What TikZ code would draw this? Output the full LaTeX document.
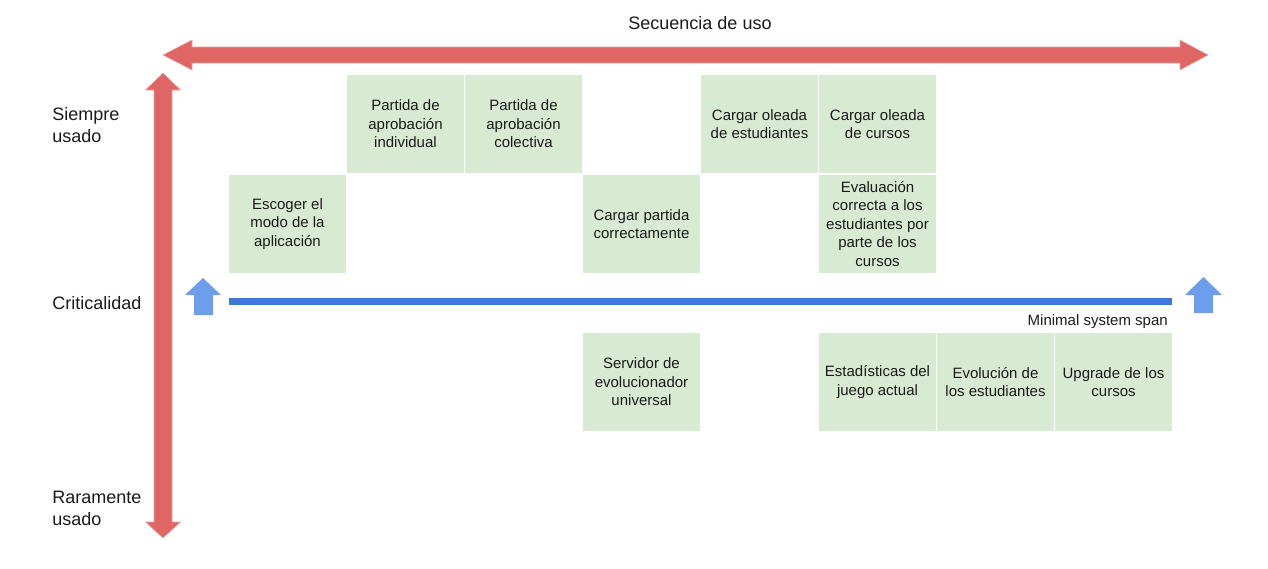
\documentclass[tikz,border=0pt]{standalone}
\usepackage{fontspec}
\setmainfont{Liberation Sans}
\definecolor{axisred}{HTML}{E06666}
\definecolor{axisblue}{HTML}{6D9EEB}
\definecolor{spanblue}{HTML}{3C78D8}
\definecolor{boxgreen}{HTML}{D9EAD3}
\definecolor{txt}{HTML}{1A1A1A}
\begin{document}
\begin{tikzpicture}[x=0.75pt,y=-0.75pt,
  cell/.style={fill=boxgreen, draw=none, minimum width=87.75pt, minimum height=73.5pt,
    inner sep=0pt, align=center, text=txt, font=\fontsize{11.25}{13.9}\selectfont},
  sidelabel/.style={anchor=west, align=left, inner sep=0pt, text=txt, font=\fontsize{13.5}{16.5}\selectfont},
  redaxis/.style={fill=axisred, draw=axisred!60, line width=0.4pt},
  bluearrow/.style={fill=axisblue, draw=none}]
\useasboundingbox (0,0) rectangle (1268,568);

% title
\node[text=txt, font=\fontsize{13.5}{16.5}\selectfont] (title) at (700,23) {Secuencia de uso};

% horizontal red double arrow
\path[redaxis] (163,55) -- (192,40) -- (192,47) -- (1180,47) -- (1180,40) -- (1208,55)
  -- (1180,70) -- (1180,63) -- (192,63) -- (192,70) -- cycle;

% vertical red double arrow
\path[redaxis] (163,73) -- (180.5,90) -- (172,90) -- (172,522) -- (180.5,522) -- (163,538)
  -- (145.5,522) -- (154,522) -- (154,90) -- (145.5,90) -- cycle;

% side labels
\node[sidelabel] (siempre) at (52,125) {Siempre\\usado};
\node[sidelabel] (crit) at (52,303) {Criticalidad};
\node[sidelabel] (raro) at (52,508) {Raramente\\usado};

% blue arrows
\path[bluearrow] (203,278) -- (221,295) -- (213,295) -- (213,315) -- (194,315) -- (194,295) -- (185,295) -- cycle;
\path[bluearrow] (1203.5,277) -- (1222,295) -- (1213,295) -- (1213,313) -- (1194,313) -- (1194,295) -- (1185,295) -- cycle;

% minimal system span line
\coordinate (spanL) at (229,301.5);
\coordinate (spanR) at (1172,301.5);
\draw[spanblue, line width=5.25pt] (spanL) -- (spanR);
\node[anchor=east, inner sep=0pt, text=txt, font=\fontsize{11.25}{13}\selectfont] (span) at (1168,321.5) {Minimal system span};

% row 1
\node[cell] (b11) at (405.5,124) {Partida de\\aprobación\\individual};
\node[cell] (b12) at (523.5,124) {Partida de\\aprobación\\colectiva};
\node[cell] (b14) at (759.5,124) {Cargar oleada\\de estudiantes};
\node[cell] (b15) at (877.5,124) {Cargar oleada\\de cursos};

% row 2
\node[cell] (b20) at (287.5,224) {Escoger el\\modo de la\\aplicación};
\node[cell] (b23) at (641.5,224) {Cargar partida\\correctamente};
\node[cell] (b25) at (877.5,224) {Evaluación\\correcta a los\\estudiantes por\\parte de los\\cursos};

% row 3
\node[cell] (b33) at (641.5,382) {Servidor de\\evolucionador\\universal};
\node[cell] (b35) at (877.5,382) {Estadísticas del\\juego actual};
\node[cell] (b36) at (995.5,382) {Evolución de\\los estudiantes};
\node[cell] (b37) at (1113.5,382) {Upgrade de los\\cursos};
\end{tikzpicture}
\end{document}
